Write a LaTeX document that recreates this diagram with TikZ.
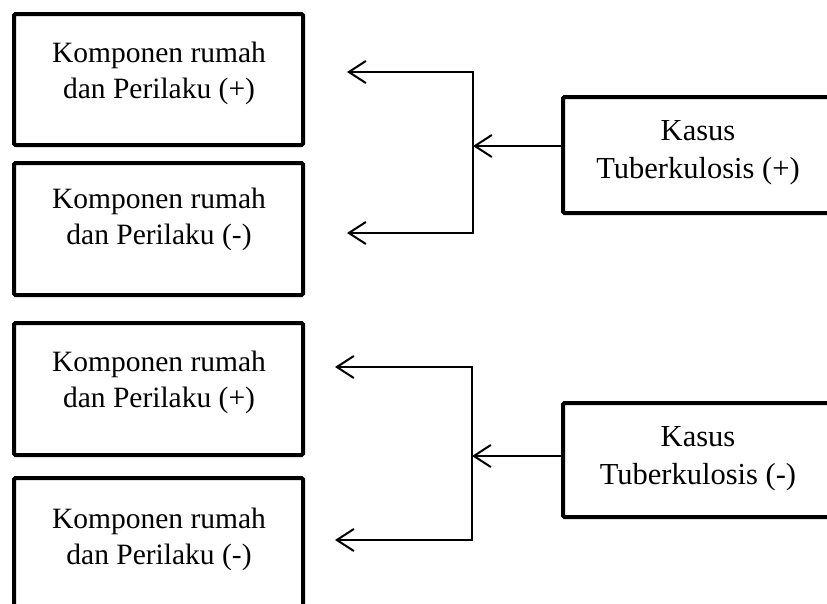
\documentclass[tikz,border=0pt]{standalone}
\usepackage{fontspec}
\setmainfont{Liberation Serif}
\usetikzlibrary{arrows.meta}
\begin{document}
\begin{tikzpicture}[x=1pt,y=-1pt,
  box/.style={draw=black, line width=4pt, rounded corners=1.5pt, rectangle, inner sep=0pt},
  lbl/.style={anchor=north, inner sep=0pt, align=center, font=\fontsize{29.5}{36}\selectfont},
  rlbl/.style={anchor=north, inner sep=0pt, align=center, font=\fontsize{30.5}{38}\selectfont},
  arr/.style={line width=2pt, -{Straight Barb[length=17pt, width=22pt, line width=2pt]}}]
\useasboundingbox (0,0) rectangle (827,603);
% left boxes
\node[box, minimum width=289pt, minimum height=131pt] (a1) at (158.5,79.5) {};
\node[box, minimum width=289pt, minimum height=132pt] (a2) at (158.5,229) {};
\node[box, minimum width=289pt, minimum height=132pt] (a3) at (158.5,389) {};
\node[box, minimum width=289pt, minimum height=132pt] (a4) at (158.5,544) {};
\node[lbl] (ta1) at (159,42) {Komponen rumah\\dan Perilaku (+)};
\node[lbl] (ta2) at (159,188) {Komponen rumah\\dan Perilaku (-)};
\node[lbl] (ta3) at (159,350.5) {Komponen rumah\\dan Perilaku (+)};
\node[lbl] (ta4) at (159,508) {Komponen rumah\\dan Perilaku (-)};
% right boxes
\node[box, minimum width=337pt, minimum height=116pt] (k1) at (731.5,155) {};
\node[box, minimum width=337pt, minimum height=114pt] (k2) at (731.5,460) {};
\node[rlbl] (tk1) at (698,120.5) {Kasus\\Tuberkulosis (+)};
\node[rlbl] (tk2) at (698,426.5) {Kasus\\Tuberkulosis (-)};
% connectors group 1
\coordinate (j1) at (473,146);
\coordinate (t1) at (347,72);
\coordinate (b1) at (347,233);
\draw[arr] (k1.west |- j1) -- (j1);
\draw[arr] (j1) -- (j1 |- t1) -- (t1);
\draw[arr] (j1) -- (j1 |- b1) -- (b1);
% connectors group 2
\coordinate (j2) at (472,456);
\coordinate (t2) at (335,367);
\coordinate (b2) at (335,540);
\draw[arr] (k2.west |- j2) -- (j2);
\draw[arr] (j2) -- (j2 |- t2) -- (t2);
\draw[arr] (j2) -- (j2 |- b2) -- (b2);
\end{tikzpicture}
\end{document}
